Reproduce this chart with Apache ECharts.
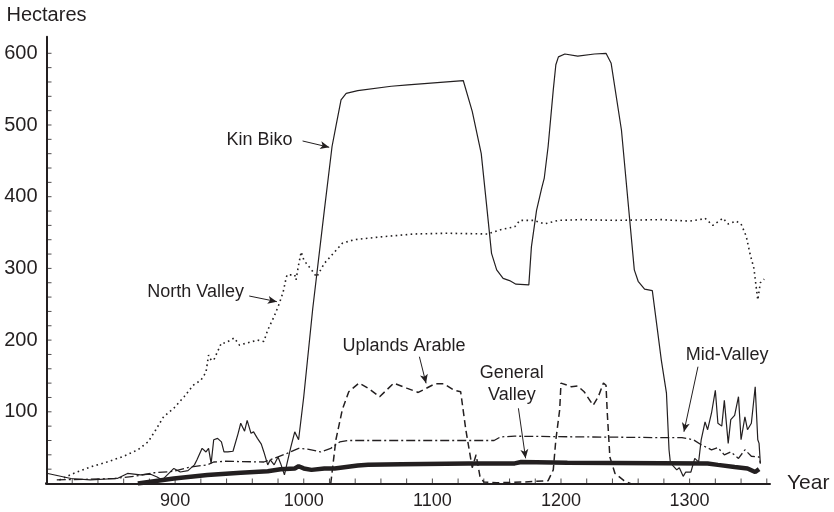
<!DOCTYPE html>
<html><head><meta charset="utf-8">
<script src="https://cdn.jsdelivr.net/npm/echarts@6/dist/echarts.min.js"></script>
<style>html,body{margin:0;padding:0;background:#fff}#c{width:834px;height:512px}</style>
</head><body><div id="c"></div>
<script>
// ---------------- data ----------------
const kinBikoYears = [801,819,834,855,863,873,881,886,890,899,
  904,910,915,917,921,924,926,928,930,933,
  936,938,941,945,949,951,954,956,959,961,
  964,967,969,972,974,977,980,982,985,987,
  990,993,996,1000,1007,1016,1022,1025,1029,1033,
  1042,1068,1081,1124,1125,1131,1138,1142,1146,1150,
  1155,1160,1165,1175,1177,1181,1185,1187,1190,1194,
  1196,1198,1203,1213,1226,1235,1239,1247,1257,1260,
  1265,1271,1275,1278,1282,1284,1285,1287,1290,1292,
  1295,1297,1301,1304,1307,1309,1312,1314,1317,1320,
  1322,1325,1327,1330,1332,1335,1338,1340,1343,1345,
  1348,1351,1353,1354,1355];
const kinBikoValues = [14,7,5,7,14,12,13,9,5,21,
  16,18,26,33,49,44,49,28,61,63,
  58,44,44,45,70,84,73,88,70,72,
  63,55,44,26,33,26,37,28,12,28,
  51,72,61,121,244,381,470,498,535,544,
  548,554,556,562,561,519,460,391,321,298,
  286,283,278,277,330,381,412,426,470,549,
  584,595,599,596,599,600,586,493,298,282,
  271,269,214,172,126,47,30,25,19,22,
  10,16,16,35,30,61,86,75,98,130,
  84,80,116,56,89,95,121,61,93,75,
  84,135,61,56,28];

const northValleyYears = [810,821,834,847,860,871,879,885,891,899,
  907,914,920,924,926,928,930,936,939,946,
  950,956,964,969,972,977,981,984,986,987,
  993,994,996,998,1000,1002,1006,1010,1016,1024,
  1030,1039,1060,1086,1112,1143,1153,1164,1168,1179,
  1187,1198,1216,1242,1278,1300,1308,1312,1318,1322,
  1326,1330,1336,1340,1344,1347,1350,1353,1355,1358];
const northValleyValues = [5,14,23,30,38,47,58,75,93,105,
  121,137,144,155,179,172,172,196,196,203,
  193,196,200,198,214,233,251,267,284,291,
  291,284,305,323,312,307,298,288,307,323,
  335,340,344,348,349,348,354,358,367,367,
  362,367,368,367,368,366,368,370,360,365,
  370,362,366,362,345,320,300,256,280,285];

const uplandsYears = [1021,1025,1030,1035,1043,1050,1059,1070,1080,1089,
  1102,1109,1117,1122,1126,1131,1134,1137,1140,1150,
  1170,1190,1194,1196,1199,1200,1205,1208,1213,1218,
  1225,1229,1233,1235,1236,1238,1242,1249,1254];
const uplandsValues = [0,61,103,128,140,133,121,140,133,127,
  139,139,130,128,75,22,40,10,2,1,
  2,4,19,61,103,140,137,135,136,128,
  109,121,140,137,98,37,14,4,0];

const generalYears = [871,899,925,951,972,982,993,996,1000,1006,
  1016,1024,1042,1050,1076,1128,1164,1169,1205,1314,
  1322,1335,1345,1351,1354];
const generalValues = [0,7,12,15,17,20,21,24,21,19,
  21,21,25,26,27,28,28,30,29,28,
  26,23,21,16,20];

const midYears = [808,834,853,868,884,899,912,925,930,939,
  969,980,987,996,1003,1013,1021,1028,1034,1148,
  1153,1164,1216,1278,1294,1303,1309,1317,1322,1327,
  1332,1338,1343,1348,1354,1355];
const midValues = [5,6,7,10,15,17,23,26,30,31,
  30,37,42,49,48,44,49,58,60,60,
  65,66,65,64,64,61,54,47,50,40,
  44,35,47,38,37,28];

// axis ticks / labels
const xTickValues = [820,840,860,880,900,920,940,960,980,1000,1020,1040,1060,1080,1100,
  1120,1140,1160,1180,1200,1220,1240,1260,1280,1300,1320,1340,1360];
const xLabelValues = [900,1000,1100,1200,1300];
const yTickValues = [20,40,60,80,100,120,140,160,180,200,220,240,260,280,300,
  320,340,360,380,400,420,440,460,480,500,520,540,560,580,600];
const yLabelValues = [100,200,300,400,500,600];

// annotations: [text, centerYear, centerValue, arrowFromYear, arrowFromValue, arrowToYear, arrowToValue]
const annotations = [
  ['Kin Biko', 965.6, 479, 999.1, 477.7, 1019.8, 468.9],
  ['North Valley', 915.9, 267.5, 957.6, 261.5, 979.1, 253.6],
  ['Uplands Arable', 1078, 191.8, 1089.9, 176.8, 1095.1, 139.7],
  ['General\nValley', 1161.8, 138.5, 1166.9, 104.9, 1172.5, 35.1],
  ['Mid-Valley', 1329.2, 179.2, 1306.5, 162.9, 1295.6, 72.2]
];

// ---------------- layout / style ----------------
const FONT = 'Liberation Sans';
const INK = '#231f20';
const xMin = 800, xMax = 1362.5, yMin = 0, yMax = 623;
const xStubStart = 787.2;
const gridLeft = 46.5, gridRight = 64, gridTop = 36.8, gridBottom = 28.5;
const tickLen = 5;

function zip(xs, ys) { return xs.map((x, i) => [x, ys[i]]); }
function labelFor(list) {
  return v => {
    const r = Math.round(v);
    return (Math.abs(v - r) < 1e-6 && list.indexOf(r) >= 0) ? String(r) : '';
  };
}

const chart = echarts.init(document.getElementById('c'), null, {renderer: 'canvas'});

function lineSeries(name, years, values, style, z) {
  return {
    name: name, type: 'line', data: zip(years, values),
    showSymbol: false, symbol: 'none', smooth: false, z: z,
    lineStyle: Object.assign({color: INK}, style),
    emphasis: {disabled: true}, silent: true
  };
}

const series = [];
// inward tick marks (rect symbols placed through the axis scales)
series.push({
  type: 'scatter', name: 'xTicks', silent: true, z: 20, clip: false,
  data: xTickValues.map(v => [v, yMin]),
  symbol: 'rect', symbolSize: [1, tickLen], symbolOffset: [0, -tickLen / 2],
  itemStyle: {color: INK}
});
series.push({
  type: 'scatter', name: 'yTicks', silent: true, z: 20, clip: false,
  data: yTickValues.map(v => [xMin, v]),
  symbol: 'rect', symbolSize: [tickLen, 1], symbolOffset: [tickLen / 2, 0],
  itemStyle: {color: INK}
});
// short stub of the x axis line left of the y axis
series.push({
  type: 'line', name: 'xStub', silent: true, z: 20, clip: false,
  data: [[xStubStart, yMin], [xMin, yMin]],
  showSymbol: false, symbol: 'none',
  lineStyle: {color: INK, width: 2, type: 'solid'}
});

series.push(lineSeries('North Valley', northValleyYears, northValleyValues, {width: 1.6, type: [1.6, 3.4]}, 2));
series.push(lineSeries('Mid-Valley', midYears, midValues, {width: 1.3, type: [9, 3, 2, 3]}, 3));
series.push(lineSeries('Uplands Arable', uplandsYears, uplandsValues, {width: 1.5, type: [7, 4]}, 4));
series.push(lineSeries('General Valley', generalYears, generalValues, {width: 4.5, type: 'solid'}, 6));

// Kin Biko carries the annotation arrows and labels (data coordinates)
const kin = lineSeries('Kin Biko', kinBikoYears, kinBikoValues, {width: 1.2, type: 'solid'}, 5);
kin.markLine = {
  silent: true, animation: false,
  symbol: ['none', 'arrow'], symbolSize: [6, 9],
  label: {show: false},
  lineStyle: {color: INK, width: 1, type: 'solid'},
  data: annotations.map(a => [{coord: [a[3], a[4]]}, {coord: [a[5], a[6]]}])
};
kin.markPoint = {
  silent: true, animation: false,
  symbol: 'circle', symbolSize: 1,
  itemStyle: {color: 'rgba(0,0,0,0)'},
  data: annotations.map(a => ({
    coord: [a[1], a[2]],
    label: {show: true, position: 'inside', formatter: a[0], color: INK,
      fontFamily: FONT, fontSize: 18, lineHeight: 21.5, align: 'center', verticalAlign: 'middle'}
  }))
};
series.push(kin);

chart.setOption({
  animation: false,
  backgroundColor: '#fff',
  grid: {left: gridLeft, right: gridRight, top: gridTop, bottom: gridBottom},
  xAxis: {
    type: 'value', min: xMin, max: xMax, interval: 20, position: 'bottom',
    name: 'Year', nameLocation: 'end', nameGap: 17,
    nameTextStyle: {fontFamily: FONT, fontSize: 21, color: INK},
    axisLine: {show: true, onZero: false, lineStyle: {color: INK, width: 2}},
    axisTick: {show: false},
    axisLabel: {show: true, margin: 9, fontFamily: FONT, fontSize: 18, color: INK,
      formatter: labelFor(xLabelValues)},
    splitLine: {show: false}
  },
  yAxis: {
    type: 'value', min: yMin, max: yMax, interval: 20, position: 'left',
    name: 'Hectares', nameLocation: 'end', nameGap: 11,
    nameTextStyle: {fontFamily: FONT, fontSize: 20, color: INK},
    axisLine: {show: true, onZero: false, lineStyle: {color: INK, width: 2}},
    axisTick: {show: false},
    axisLabel: {show: true, margin: 9, fontFamily: FONT, fontSize: 20, color: INK,
      formatter: labelFor(yLabelValues)},
    splitLine: {show: false}
  },
  series: series
});
</script>
</body></html>
